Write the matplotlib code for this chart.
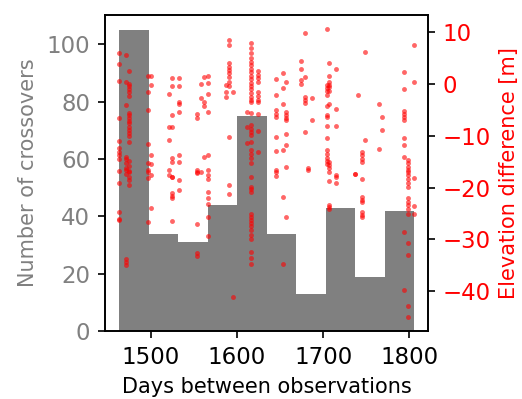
import numpy as np
import matplotlib
matplotlib.use('Agg')
import matplotlib.pyplot as plt

# histogram of crossover time gaps
bin_lo, bin_hi = 1463.2, 1805.5
counts = [105, 34, 31, 44, 75, 34, 13, 43, 19, 42]

# elevation differences, grouped by day gap
col_days = [1463, 1471, 1475, 1497, 1500, 1521, 1525, 1533, 1554, 1558, 1562, 1566,
            1587, 1591, 1595.5, 1612, 1616, 1625, 1645, 1654, 1657, 1674, 1679, 1682,
            1687, 1704, 1707, 1715, 1737, 1740, 1745, 1749, 1765, 1768, 1794, 1798, 1805]
col_elev = [
    [6.0, 3.8, 0.6, -6.6, -11.0, -12.3, -13.1, -13.6, -14.4, -16.7, -19.1, -24.7, -26.0, -26.3],
    [5.7, 0.45, -4.05, -14.05, -14.5, -15.3, -16.3, -16.6, -17.4, -33.7, -34.4, -35.0],
    [2.5, 0.1, -0.3, -1.0, -1.6, -2.25, -5.5, -6.0, -6.6, -7.15, -7.6, -8.25, -8.9, -9.5,
     -10.0, -11.15, -14.9, -15.8, -16.8, -17.0, -17.9, -18.6, -19.5],
    [1.55, -1.6, -5.0, -11.5, -15.3, -17.0, -16.6, -18.2, -26.6],
    [1.55, -0.2, -13.7, -15.5, -17.6, -24.0],
    [-2.0, -8.3, -10.8, -16.6, -17.5],
    [1.1, -0.3, -5.9, -8.3, -14.2, -15.0, -17.9, -18.0, -21.1, -21.6, -22.1, -26.4],
    [1.1, -0.3, -3.5, -3.9, -5.3, -13.6, -15.0, -18.6, -20.4],
    [-5.7, -6.5, -16.6, -17.1, -17.0, -27.0, -32.6, -33.3],
    [0.0, -2.6, -17.0],
    [1.4, -3.5, -4.2, -14.05],
    [1.6, 0.3, -2.0, -5.3, -13.7, -16.6, -17.5, -18.4, -20.8, -22.0, -23.1, -25.7, -29.3],
    [-0.2, -1.6, -2.5],
    [8.5, 7.55, 4.0, 3.4, 2.8, 2.2, 1.4, 0.45, -0.4, -10.2, -19.5, -21.3],
    [-1.6, -41.1],
    [-5.35, -8.25, -11.3],
    [7.9, 7.0, 6.0, 5.0, 4.3, 3.6, 3.0, 2.3, 1.6, 1.0, 0.3, -0.4, -1.0, -1.7, -2.4, -3.0,
     -3.4, -5.5, -7.9, -8.6, -9.3, -9.9, -11.15, -12.8, -13.5, -14.2, -15.3, -17.9, -19.8,
     -20.3, -20.8, -25.0, -25.6, -26.2, -26.8, -27.4, -28.2, -29.2, -29.9, -32.4, -33.5, -34.8],
    [2.5, 1.8, 1.1, 0.4, -1.5, -2.3, -3.0, -3.5, -5.8, -9.1, -13.1],
    [0.9, -2.1, -5.0, -5.7, -6.3, -10.2, -13.0, -16.6, -17.0, -17.8],
    [2.1, -0.7, -3.9, -12.8, -21.8, -34.8],
    [0.45, -5.35, -6.0, -6.6, -6.95, -9.7, -11.8, -16.0, -25.7],
    [4.45, 2.9, 0.8, 0.1],
    [9.8, 1.4, -2.4, -3.1, -3.7, -9.2],
    [-16.3, -16.6],
    [-2.6, -6.95],
    [10.6, -0.2, -0.8, -1.4, -2.1, -4.2, -6.0, -6.4, -8.1, -10.4, -12.8, -13.5, -14.2, -14.8, -15.4],
    [4.0, 1.55, 0.45, -0.2, -0.5, -1.35, -3.9, -15.0, -15.6, -16.3, -17.0, -18.8, -23.3, -23.8, -24.2],
    [2.85, -4.8, -8.05, -17.6, -17.9, -19.2],
    [-17.3, -17.4],
    [-2.1],
    [-13.1, -13.7, -14.4, -15.0, -18.4, -21.8, -22.3, -22.8, -24.7, -25.2, -25.7],
    [6.25, -10.8],
    [-3.8, -12.6],
    [-6.3, -8.8],
    [2.3, -0.95, -5.15, -5.7, -6.3, -6.95, -10.4, -11.7, -14.05, -28.6, -39.8],
    [-14.7, -15.3, -16.0, -16.6, -17.0, -17.6, -18.4, -19.2, -19.9, -22.1, -22.7, -23.4,
     -24.2, -25.0, -30.7, -33.1, -42.9, -44.9],
    [7.55, 0.45, -18.1, -23.6, -25.1],
]

elev_ticks = [-40, -30, -20, -10, 0, 10]

days = np.concatenate([[d] * len(e) for d, e in zip(col_days, col_elev)])
elev = np.concatenate(col_elev)

edges = np.linspace(bin_lo, bin_hi, len(counts) + 1)

fig = plt.figure(figsize=(522 / 150, 399 / 150), dpi=150)
ax = fig.add_axes([0.2006, 0.1704, 0.6199, 0.792])
ax.hist(edges[:-1], bins=edges, weights=counts, color='gray')
ax.set_xlim(1446.6, 1822)
ax.set_ylim(0, 110.25)
ax.set_xlabel('Days between observations')
ax.set_ylabel('Number of crossovers', color='gray')
ax.tick_params(axis='y', labelcolor='gray', labelsize=11)
ax.tick_params(axis='x', labelsize=11)

ax2 = ax.twinx()
ax2.scatter(days, elev, s=5.5, color='red', alpha=0.6, linewidths=0)
ax2.set_ylim(-47.7, 13.35)
ax2.set_yticks(elev_ticks)
ax2.set_ylabel('Elevation difference [m]', color='red')
ax2.tick_params(axis='y', labelcolor='red', labelsize=11)

plt.savefig('out.png', dpi=150)
plt.close()
